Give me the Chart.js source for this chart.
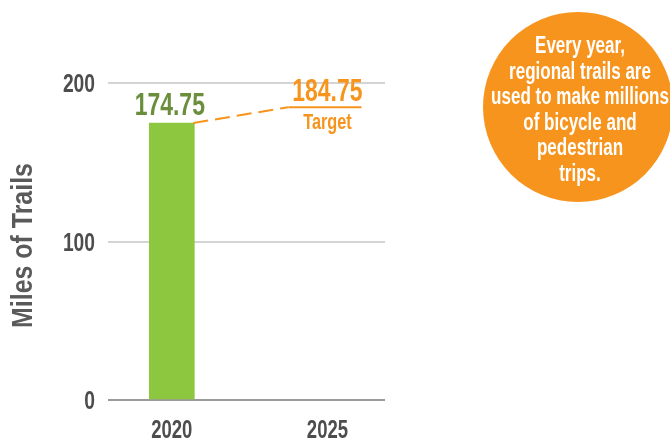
<!DOCTYPE html>
<html>
<head>
<meta charset="utf-8">
<title>Miles of Trails</title>
<script src="https://cdn.jsdelivr.net/npm/chart.js@4"></script>
<style>
  html, body { margin: 0; padding: 0; background: #fff; }
  #wrap { width: 670px; height: 441px; position: relative; }
</style>
</head>
<body>
<div id="wrap"><canvas id="trails"></canvas></div>
<script>
const years = [2020, 2025]
const actualMiles = [174.75]
const targetMiles = [184.75]
const yTicks = [0, 100, 200]
const targetLabel = "Target"
const yTitle = "Miles of Trails"
const noteLines = ["Every year,", "regional trails are", "used to make millions", "of bicycle and", "pedestrian", "trips."]

const baseFont = "'Liberation Sans', Arial, sans-serif"
const squeeze = 0.74 // no condensed face installed, so squash the bold sans
const green = "#8dc63f"
const darkGreen = "#6a8e3c"
const orange = "#f7941d"
const grey = "#555555"

function narrowText(ctx, text, x, y, size, color, rotate, sx) {
    ctx.save()
    ctx.translate(x, y)
    if (rotate) ctx.rotate(-Math.PI / 2)
    ctx.scale(sx || squeeze, 1)
    ctx.font = "bold " + size + "px " + baseFont
    ctx.fillStyle = color
    ctx.textAlign = "center"
    ctx.fillText(text, 0, 0)
    ctx.restore()
}

// tick labels, value labels, dashed connector, target line and the note circle
const extras = {
    id: "extras",
    afterDatasetsDraw(chart) {
        const ctx = chart.ctx
        const x = chart.scales.x
        const y = chart.scales.y
        const area = chart.chartArea
        const bar = chart.getDatasetMeta(0).data[0]

        // axis tick labels
        ctx.textBaseline = "middle"
        yTicks.forEach(v => {
            ctx.save()
            ctx.translate(95, y.getPixelForValue(v) + 2)
            ctx.scale(squeeze, 1)
            ctx.font = "bold 26px " + baseFont
            ctx.fillStyle = "#4d4d4d"
            ctx.textAlign = "right"
            ctx.fillText(String(v), 0, 0)
            ctx.restore()
        })
        years.forEach(v => {
            narrowText(ctx, String(v), x.getPixelForValue(v), area.bottom + 31, 25, "#4d4d4d")
        })
        ctx.textBaseline = "alphabetic"
        narrowText(ctx, yTitle, 32, (area.top + area.bottom) / 2 + 4, 29, "#5a5a5a", true, 0.86)

        const barTop = y.getPixelForValue(actualMiles[0])
        const barRight = bar.x + bar.width / 2
        const tx = x.getPixelForValue(years[1])
        const ty = y.getPixelForValue(targetMiles[0])

        ctx.save()
        ctx.strokeStyle = orange
        ctx.lineWidth = 2
        ctx.setLineDash([15, 7])
        ctx.beginPath()
        ctx.moveTo(barRight - 1, barTop)
        ctx.lineTo(tx - 39, ty)
        ctx.stroke()
        ctx.setLineDash([])
        ctx.beginPath()
        ctx.moveTo(tx - 39, ty)
        ctx.lineTo(tx + 34, ty)
        ctx.stroke()
        ctx.restore()

        narrowText(ctx, actualMiles[0].toFixed(2), bar.x - 2, barTop - 8, 31, darkGreen)
        narrowText(ctx, targetMiles[0].toFixed(2), tx, ty - 6, 31, orange)
        narrowText(ctx, targetLabel, tx, ty + 22, 22, orange)

        // note circle
        ctx.save()
        ctx.fillStyle = orange
        ctx.beginPath()
        ctx.arc(578, 107, 95, 0, Math.PI * 2)
        ctx.fill()
        ctx.restore()
        noteLines.forEach((line, i) => {
            narrowText(ctx, line, 580, 53 + i * 25.5, 23, "#ffffff")
        })
    }
}

new Chart(document.getElementById("trails"), {
    type: "bar",
    data: {
        datasets: [{
            data: [{ x: years[0], y: actualMiles[0] }],
            backgroundColor: green,
            barThickness: 45
        }]
    },
    options: {
        responsive: true,
        maintainAspectRatio: false,
        animation: false,
        layout: {
            padding: { top: 83, right: 285, bottom: 0, left: 0 }
        },
        plugins: {
            legend: { display: false },
            tooltip: { enabled: false }
        },
        scales: {
            x: {
                type: "linear",
                offset: false,
                min: 2017.95,
                max: 2026.85,
                afterFit: scale => { scale.height = 41 },
                grid: { display: false },
                border: { display: false },
                ticks: { display: false }
            },
            y: {
                min: 0,
                max: 200,
                afterBuildTicks: scale => { scale.ticks = yTicks.map(v => ({ value: v })) },
                afterFit: scale => { scale.width = 108 },
                border: { display: false },
                grid: {
                    drawTicks: false,
                    lineWidth: 2,
                    color: c => c.tick && c.tick.value === 0 ? "#9a9a9a" : "#d4d4d4"
                },
                ticks: { display: false }
            }
        }
    },
    plugins: [extras]
})
</script>
</body>
</html>
